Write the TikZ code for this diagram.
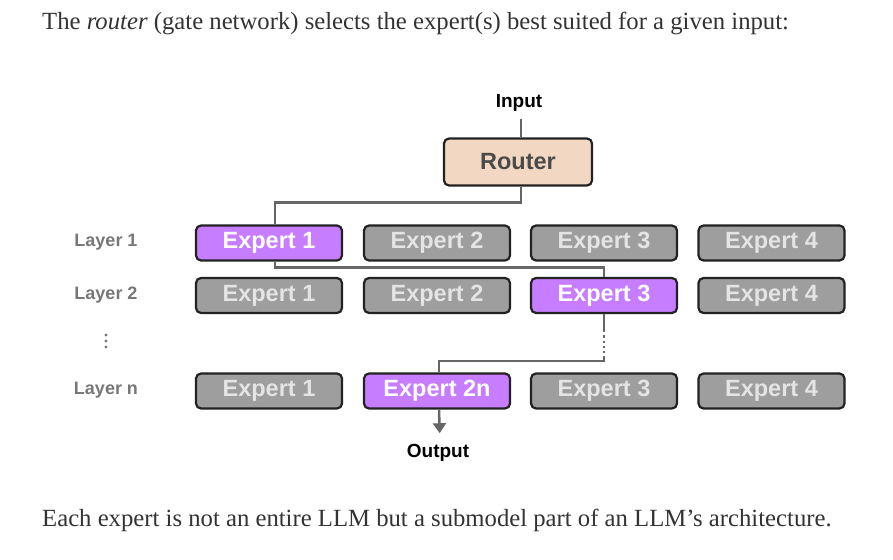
\documentclass[tikz,border=0pt]{standalone}
\usepackage{fontspec}
\setmainfont{Liberation Serif}
\setsansfont{Liberation Sans}
\usetikzlibrary{arrows.meta}
\definecolor{purp}{HTML}{C77DFF}
\definecolor{grayfill}{HTML}{9E9E9E}
\definecolor{graytext}{HTML}{E4E4E4}
\definecolor{peach}{HTML}{F2D8C2}
\definecolor{linec}{HTML}{666666}
\definecolor{borderc}{HTML}{222222}
\definecolor{labelc}{HTML}{777777}
\definecolor{bodytext}{HTML}{333333}
\definecolor{routertext}{HTML}{4A4A4A}
\begin{document}
\begin{tikzpicture}[x=1pt,y=-1pt,
 box/.style={draw=borderc, line width=2.2pt, rounded corners=5pt, minimum width=146pt, minimum height=35pt, inner sep=0pt, font=\sffamily\bfseries\fontsize{23.5}{24}\selectfont},
 off/.style={box, fill=grayfill, text=graytext},
 on/.style={box, fill=purp, text=white},
 conn/.style={draw=linec, line width=2.5pt},
 lay/.style={font=\sffamily\bfseries\fontsize{18}{18}\selectfont, text=labelc},
 io/.style={font=\sffamily\bfseries\fontsize{19}{19}\selectfont, text=black, inner sep=2pt},
 para/.style={font=\fontsize{24.7}{26}\selectfont, text=bodytext, inner sep=0pt, anchor=west},
]
\useasboundingbox (0,0) rectangle (893,559);

\node[para] (top) at (42,23) {The \textit{router} (gate network) selects the expert(s) best suited for a given input:};
\node[para] (bot) at (42,520) {Each expert is not an entire LLM but a submodel part of an LLM’s architecture.};

\node[io] (input) at (519,103) {Input};
\node[box, fill=peach, text=routertext, minimum width=148pt, minimum height=47pt] (router) at (518,162) {Router};

\node[lay] (l1) at (106,242) {Layer 1};
\node[lay] (l2) at (106,295) {Layer 2};
\node[lay] (ln) at (106,390) {Layer n};
\fill[labelc] (106,335) circle (1.7) (106,341) circle (1.7) (106,347) circle (1.7);

\node[on]  (e11) at (269,243) {Expert 1};
\node[off] (e12) at (437,243) {Expert 2};
\node[off] (e13) at (604,243) {Expert 3};
\node[off] (e14) at (771.5,243) {Expert 4};

\node[off] (e21) at (269,295.5) {Expert 1};
\node[off] (e22) at (437,295.5) {Expert 2};
\node[on]  (e23) at (604,295.5) {Expert 3};
\node[off] (e24) at (771.5,295.5) {Expert 4};

\node[off] (en1) at (269,391) {Expert 1};
\node[on]  (en2) at (437,391) {Expert 2n};
\node[off] (en3) at (604,391) {Expert 3};
\node[off] (en4) at (771.5,391) {Expert 4};

\node[io] (output) at (438,453) {Output};

\draw[conn, shorten <=5pt] ([xshift=2pt]input.south) -- ([xshift=3pt]router.north);
\draw[conn] ([xshift=3pt]router.south) -- ++(0,16) -| ([xshift=6pt]e11.north);
\draw[conn] ([xshift=6pt]e11.south) -- ++(0,6) -| (e23.north);
\draw[conn] (e23.south) -- ++(0,16) coordinate (d1);
\draw[conn, line width=2.2pt, dash pattern=on 2.2pt off 3pt] (d1) -- ++(0,26) coordinate (d2);
\draw[conn] (d2) -- ++(0,5) -| ([xshift=2pt]en2.north);
\draw[conn, -{Triangle[width=13pt,length=10pt]}, shorten >=9pt] ([xshift=2pt]en2.south) -- ([xshift=2pt]output.north);
\end{tikzpicture}
\end{document}
